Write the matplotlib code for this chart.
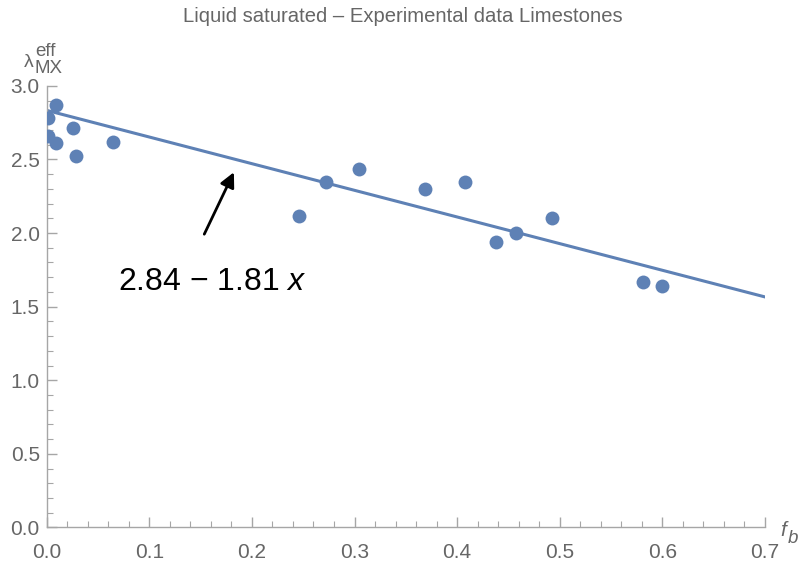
import matplotlib
matplotlib.use('Agg')
import matplotlib.pyplot as plt
import numpy as np

plt.rcParams['font.family'] = ['Liberation Sans', 'DejaVu Sans']
plt.rcParams['mathtext.fontset'] = 'custom'
plt.rcParams['mathtext.rm'] = 'Liberation Sans'
plt.rcParams['mathtext.it'] = 'Liberation Sans:italic'

# fraction f_b and measured effective conductivity
fb = [0.001, 0.001, 0.009, 0.009, 0.026, 0.0286, 0.0286, 0.065,
      0.246, 0.272, 0.304, 0.369, 0.408, 0.438, 0.457, 0.492, 0.581, 0.600]
lam = [2.782, 2.657, 2.867, 2.612, 2.714, 2.521, 3.05, 2.616,
       2.118, 2.344, 2.435, 2.299, 2.344, 1.936, 1.997, 2.102, 1.664, 1.637]

intercept = 2.833
slope = -1.81
fit_label = '2.84 \u2212 1.81 '

blue = '#5E81B5'
gray = '#a6a6a6'
txt = '#666666'

W, H = 801, 567
fig = plt.figure(figsize=(W / 100, H / 100), dpi=100)
ax = fig.add_axes([0.0583, 0.0697, 0.8967, 0.779])


def px(x, y):
    # pixel position from the top-left corner -> figure fraction
    return x / W, 1 - y / H


xs = np.linspace(0, 0.7, 50)
ax.plot(xs, intercept + slope * xs, color=blue, lw=2.2, zorder=2)
ax.plot(fb, lam, 'o', color=blue, ms=10, mec='none', zorder=3)

ax.set_xlim(0, 0.7)
ax.set_ylim(0, 3.0)
for s in ['top', 'right']:
    ax.spines[s].set_visible(False)
for s in ['left', 'bottom']:
    ax.spines[s].set_color(gray)
    ax.spines[s].set_linewidth(1.0)

ax.set_xticks(np.arange(0, 0.71, 0.1))
ax.set_xticks(np.arange(0, 0.71, 0.02), minor=True)
ax.set_yticks(np.arange(0, 3.01, 0.5))
ax.set_yticks(np.arange(0, 3.01, 0.1), minor=True)
ax.xaxis.set_major_formatter(matplotlib.ticker.FormatStrFormatter('%.1f'))
ax.yaxis.set_major_formatter(matplotlib.ticker.FormatStrFormatter('%.1f'))
ax.tick_params(which='major', direction='in', length=7, width=1, color=gray,
               labelsize=15, labelcolor=txt)
ax.tick_params(which='minor', direction='in', length=4, width=0.8, color=gray)
ax.tick_params(axis='x', pad=11)
ax.tick_params(axis='y', pad=5)

ax.annotate('', xy=(0.1836, 2.43), xytext=(0.1524, 1.975),
            arrowprops=dict(arrowstyle='-|>', color='black', lw=2,
                            mutation_scale=22))
ax.text(0.0695, 1.669, fit_label + r'$x$', fontsize=23, color='black',
        ha='left', va='center')

fig.text(*px(403, 16), 'Liquid saturated \u2013 Experimental data Limestones',
         ha='center', va='center', fontsize=14.6, color=txt)

# y axis label: lambda with eff stacked over MX
fig.text(*px(24, 67), '\u03bb', fontsize=14, color=txt, ha='left', va='baseline')
fig.text(*px(35, 73), 'eff\nMX', fontsize=13.5, color=txt, ha='left',
         va='baseline', linespacing=0.98)

# x axis label f_b
fig.text(*px(780, 536), 'f', fontsize=15, color=txt, style='italic',
         ha='left', va='baseline')
fig.text(*px(788, 543), 'b', fontsize=13.5, color=txt, style='italic',
         ha='left', va='baseline')

fig.savefig('out.png', dpi=100)
